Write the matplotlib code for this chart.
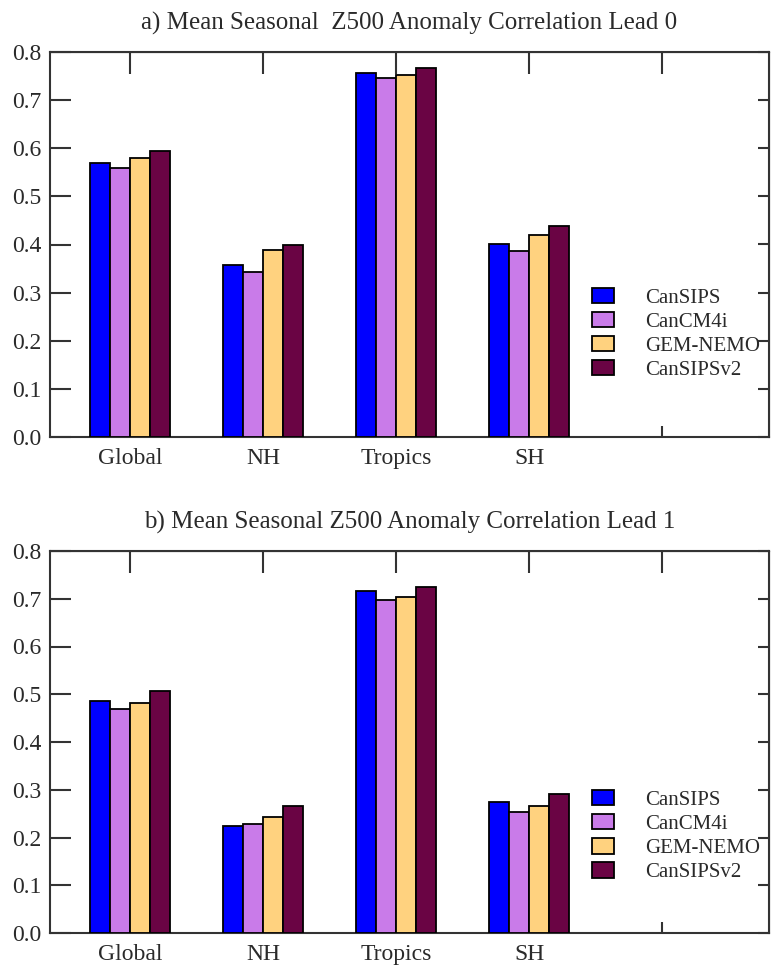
import numpy as np
import matplotlib
matplotlib.use('Agg')
import matplotlib.pyplot as plt

plt.rcParams['font.family'] = ['Liberation Serif', 'DejaVu Serif']

regions = ['Global', 'NH', 'Tropics', 'SH', '']
models = ['CanSIPS', 'CanCM4i', 'GEM-NEMO', 'CanSIPSv2']
colors = ['#0000ff', '#c97be9', '#ffd27f', '#6a0444']

lead0 = {
    'CanSIPS':   [0.570, 0.357, 0.757, 0.402],
    'CanCM4i':   [0.558, 0.342, 0.745, 0.387],
    'GEM-NEMO':  [0.580, 0.388, 0.752, 0.420],
    'CanSIPSv2': [0.595, 0.399, 0.767, 0.438],
}
lead1 = {
    'CanSIPS':   [0.485, 0.224, 0.716, 0.275],
    'CanCM4i':   [0.470, 0.228, 0.698, 0.253],
    'GEM-NEMO':  [0.481, 0.242, 0.703, 0.267],
    'CanSIPSv2': [0.506, 0.267, 0.724, 0.292],
}
titles = ['a) Mean Seasonal  Z500 Anomaly Correlation Lead 0',
          'b) Mean Seasonal Z500 Anomaly Correlation Lead 1']
yticks = [0.0, 0.1, 0.2, 0.3, 0.4, 0.5, 0.6, 0.7, 0.8]

W, H = 772, 968
fig = plt.figure(figsize=(W / 100, H / 100), dpi=100)

def px_axes(x0, x1, y_top, y_bot):
    return fig.add_axes([x0 / W, 1 - y_bot / H, (x1 - x0) / W, (y_bot - y_top) / H])

axes = [px_axes(50, 769, 52, 437), px_axes(50, 769, 551, 933)]
leg_tops = [0.387, 0.374]
bar_w = 0.15
text_col = '#2a2a2a'

for ax, data, title, lt in zip(axes, [lead0, lead1], titles, leg_tops):
    x = np.arange(4)
    for i, m in enumerate(models):
        ax.bar(x + (i - 1.5) * bar_w, data[m], bar_w, color=colors[i],
               edgecolor='black', linewidth=1.3, label=m, zorder=3)
    ax.set_xlim(-0.6, 4.8)
    ax.set_ylim(0, 0.8)
    ax.set_yticks(yticks)
    ax.set_yticklabels(['%.1f' % v for v in yticks])
    ax.set_xticks(np.arange(5))
    ax.set_xticklabels(regions)
    ax.tick_params(axis='both', direction='in', labelsize=17, colors='#333333',
                   labelcolor=text_col, width=1.5)
    ax.tick_params(axis='y', length=15, pad=6)
    ax.tick_params(axis='x', length=8, pad=8)
    for s in ax.spines.values():
        s.set_linewidth(1.5)
        s.set_color('#333333')

    top = ax.secondary_xaxis('top')
    top.set_xticks(np.arange(5))
    top.set_xticklabels([])
    top.tick_params(direction='in', length=16, width=1.5, colors='#333333')
    right = ax.secondary_yaxis('right')
    right.set_yticks(yticks)
    right.set_yticklabels([])
    right.tick_params(direction='in', length=8, width=1.5, colors='#333333')

    ax.set_title(title, fontsize=18, color=text_col, pad=16)
    leg = ax.legend(loc='upper left', bbox_to_anchor=(0.754, lt), frameon=False,
                    fontsize=15, handlelength=1.05, handleheight=0.75,
                    handletextpad=1.5, labelspacing=0.2, borderpad=0,
                    borderaxespad=0)
    for t in leg.get_texts():
        t.set_color(text_col)

fig.savefig('out.png', dpi=100)
